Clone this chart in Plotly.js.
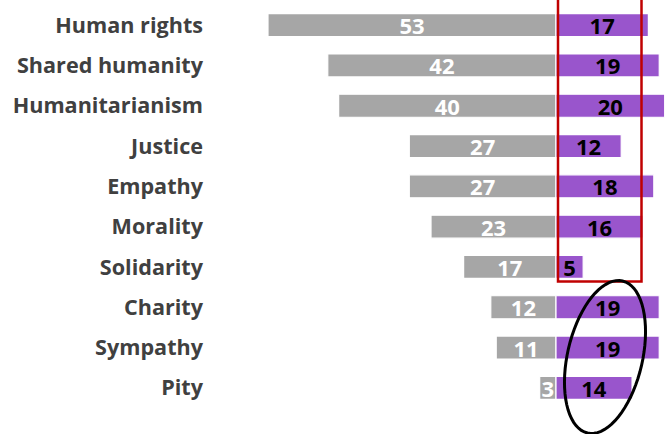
<!DOCTYPE html>
<html>
<head>
<meta charset="utf-8">
<script src="https://cdn.plot.ly/plotly-3.0.1.min.js"></script>
<style>html,body{margin:0;padding:0;background:#fff;}#chart{width:666px;height:434px;}</style>
</head>
<body>
<div id="chart"></div>
<script>
var categories = ["Human rights","Shared humanity","Humanitarianism","Justice","Empathy","Morality","Solidarity","Charity","Sympathy","Pity"];
var grayValues = [53,42,40,27,27,23,17,12,11,3];
var purpleValues = [17,19,20,12,18,16,5,19,19,14];

var L = 208, R = 0, T = 5, B = 26, W = 666, H = 434;
var pw = W - L - R, ph = H - T - B;
function px2fx(x){ return (x - L) / pw; }
function py2fy(y){ return 1 - (y - T) / ph; }

// rotated ellipse path (paper coords)
function ellipsePath(cx, cy, a, b, angDeg){
  var th = angDeg * Math.PI / 180, pts = [];
  for (var i = 0; i <= 72; i++){
    var t = i / 72 * 2 * Math.PI;
    var ex = b * Math.cos(t), ey = a * Math.sin(t);
    var x = cx + ex * Math.cos(th) - ey * Math.sin(th);
    var y = cy + ex * Math.sin(th) + ey * Math.cos(th);
    pts.push((i === 0 ? "M" : "L") + px2fx(x).toFixed(5) + "," + py2fy(y).toFixed(5));
  }
  return pts.join(" ") + " Z";
}

var grayTrace = {
  type: "bar", orientation: "h",
  y: categories,
  x: grayValues.map(function(v){ return -v; }),
  text: grayValues.map(String),
  textposition: "inside", insidetextanchor: "middle", constraintext: "none", textangle: 0,
  textfont: {family: "Open Sans", size: 22, weight: "bold", color: "#ffffff"},
  marker: {color: "#a6a6a6", line: {color: "#ffffff", width: 1.2}},
  hoverinfo: "skip", cliponaxis: false
};
var purpleTrace = {
  type: "bar", orientation: "h",
  y: categories,
  x: purpleValues,
  text: purpleValues.map(String),
  textposition: "inside", insidetextanchor: "middle", constraintext: "none", textangle: 0,
  textfont: {family: "Open Sans", size: 22, weight: "bold", color: "#000000"},
  marker: {color: "#9955cc", line: {color: "#ffffff", width: 1.2}},
  hoverinfo: "skip", cliponaxis: false
};

var scale = 288 / 53;
var layout = {
  width: W, height: H,
  margin: {l: L, r: R, t: T, b: B, pad: 0},
  paper_bgcolor: "#ffffff", plot_bgcolor: "#ffffff",
  showlegend: false,
  barmode: "relative",
  bargap: 0.43,
  xaxis: {range: [-(556 - L) / scale, (W - R - 556) / scale], visible: false, fixedrange: true, zeroline: false, showgrid: false},
  yaxis: {
    type: "category", autorange: "reversed",
    showgrid: false, zeroline: false, showline: false, ticks: "",
    ticklabelstandoff: 4,
    tickfont: {family: "Open Sans", size: 21.6, weight: "bold", color: "#404040"}
  },
  shapes: [
    {type: "rect", xref: "paper", yref: "paper",
     x0: px2fx(558), x1: px2fx(641.5), y0: py2fy(281.5), y1: py2fy(-5),
     line: {color: "#c00000", width: 2.5}, fillcolor: "rgba(0,0,0,0)", layer: "above"},
    {type: "path", xref: "paper", yref: "paper",
     path: ellipsePath(605, 357, 78, 37.5, 13),
     line: {color: "#000000", width: 3}, fillcolor: "rgba(0,0,0,0)", layer: "above"}
  ]
};

Plotly.newPlot("chart", [grayTrace, purpleTrace], layout, {staticPlot: true, displayModeBar: false});
</script>
</body>
</html>
